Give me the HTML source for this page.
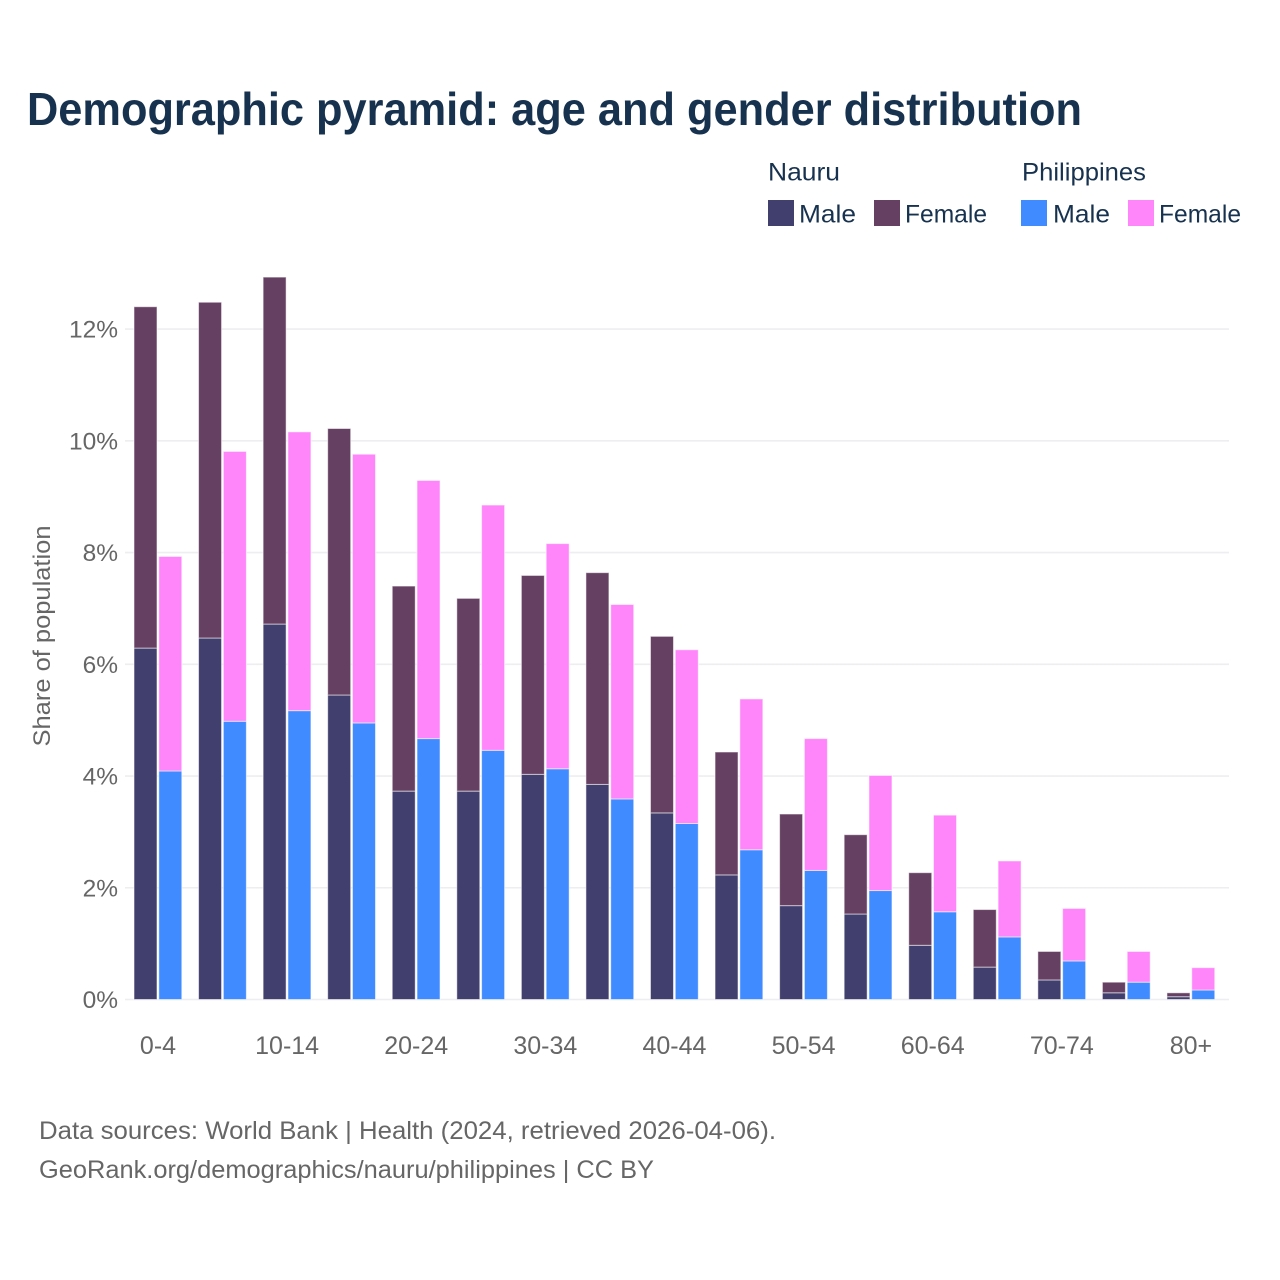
<!DOCTYPE html>
<html lang="en">
<head>
<meta charset="utf-8">
<title>Demographic pyramid: age and gender distribution</title>
<style>
html,body{margin:0;padding:0;background:#fff;width:1280px;height:1280px;overflow:hidden}
svg{display:block}
text{font-family:"Liberation Sans",sans-serif}
</style>
</head>
<body>
<svg id="chart" width="1280" height="1280" viewBox="0 0 1280 1280" xmlns="http://www.w3.org/2000/svg">
<rect x="0" y="0" width="1280" height="1280" fill="#ffffff"/>
<text x="27" y="125" font-size="46.5" font-weight="700" fill="#17324f" textLength="1055" lengthAdjust="spacingAndGlyphs">Demographic pyramid: age and gender distribution</text>
<g font-size="25" fill="#17324f">
<text x="768" y="180.5" textLength="72" lengthAdjust="spacingAndGlyphs">Nauru</text>
<text x="1022" y="180.5" textLength="124" lengthAdjust="spacingAndGlyphs">Philippines</text>
<rect x="768" y="200" width="26" height="26" fill="#413f6e"/>
<text x="799" y="222.5" textLength="57" lengthAdjust="spacingAndGlyphs">Male</text>
<rect x="874" y="200" width="26" height="26" fill="#664062"/>
<text x="905" y="222.5" textLength="82" lengthAdjust="spacingAndGlyphs">Female</text>
<rect x="1021" y="200" width="26" height="26" fill="#3f8bff"/>
<text x="1053" y="222.5" textLength="57" lengthAdjust="spacingAndGlyphs">Male</text>
<rect x="1128" y="200" width="26" height="26" fill="#ff85fa"/>
<text x="1159" y="222.5" textLength="82" lengthAdjust="spacingAndGlyphs">Female</text>
</g>
<g id="grid"></g>
<g id="bars"></g>
<g id="y-axis"></g>
<g id="x-axis"></g>
<text transform="translate(50 636) rotate(-90)" text-anchor="middle" font-size="24" fill="#666666" textLength="221" lengthAdjust="spacingAndGlyphs">Share of population</text>
<text x="39" y="1139" font-size="25" fill="#666666" textLength="737" lengthAdjust="spacingAndGlyphs">Data sources: World Bank | Health (2024, retrieved 2026-04-06).</text>
<text x="39" y="1178" font-size="25" fill="#666666" textLength="615" lengthAdjust="spacingAndGlyphs">GeoRank.org/demographics/nauru/philippines | CC BY</text>
</svg>
<script>
const categories = ["0-4","5-9","10-14","15-19","20-24","25-29","30-34","35-39","40-44","45-49","50-54","55-59","60-64","65-69","70-74","75-79","80+"];
const nauruMale = [6.29,6.47,6.72,5.45,3.73,3.73,4.03,3.85,3.34,2.23,1.68,1.53,0.97,0.58,0.35,0.12,0.05];
const nauruFemale = [6.11,6.01,6.21,4.77,3.67,3.45,3.56,3.79,3.16,2.20,1.64,1.42,1.30,1.03,0.51,0.19,0.07];
const philippinesMale = [4.09,4.98,5.17,4.95,4.67,4.46,4.13,3.59,3.15,2.68,2.31,1.95,1.57,1.12,0.69,0.31,0.17];
const philippinesFemale = [3.84,4.83,4.99,4.81,4.62,4.39,4.03,3.48,3.11,2.70,2.36,2.06,1.73,1.36,0.94,0.55,0.40];
const yTicks = [0,2,4,6,8,10,12];

const NS = "http://www.w3.org/2000/svg";
function yScale(v){ return 999.5 - v * 55.87; }
function xScale(i){ return 158 + i * 64.56; }

function make(tag, attrs, parent){
  const el = document.createElementNS(NS, tag);
  for (const k in attrs) el.setAttribute(k, attrs[k]);
  parent.appendChild(el);
  return el;
}

const gridG = document.getElementById("grid");
const yG = document.getElementById("y-axis");
const xG = document.getElementById("x-axis");
const barsG = document.getElementById("bars");

yTicks.forEach(function(t){
  const line = make("line", {x1:125, x2:1229, y1:yScale(t), y2:yScale(t), stroke:"#eeeef1", "stroke-width":1.6}, gridG);
  
  
  const label = make("text", {x:118, y:yScale(t)+8.5, "text-anchor":"end", "font-size":24.5, fill:"#666666"}, yG);
  label.textContent = t + "%";
  
  
});

function stacked(series0, series1, offset, color0, color1, country){
  categories.forEach(function(c, i){
    const x = xScale(i) + offset;
    const top0 = yScale(series0[i]);
    const top1 = yScale(series0[i] + series1[i]);
    const lower = make("rect", {x:x, y:top0, width:23, height:yScale(0)-top0, fill:color0, stroke:"#ffffff", "stroke-opacity":0.55, "stroke-width":1}, barsG);
    
    
    lower.setAttribute('data-country', country);
    lower.setAttribute('data-age', c);
    const upper = make("rect", {x:x, y:top1, width:23, height:top0-top1, fill:color1, stroke:"#ffffff", "stroke-opacity":0.55, "stroke-width":1}, barsG);
    
    
    upper.setAttribute('data-country', country);
    upper.setAttribute('data-age', c);
  });
}
stacked(nauruMale, nauruFemale, -24, "#413f6e", "#664062", "nauru");
stacked(philippinesMale, philippinesFemale, 0.8, "#3f8bff", "#ff85fa", "philippines");

categories.forEach(function(c, i){
  if (i % 2 !== 0) return;
  const label = make("text", {x:xScale(i), y:1054, "text-anchor":"middle", "font-size":25, fill:"#666666"}, xG);
  label.textContent = c;
  
  
});
</script>
</body>
</html>
